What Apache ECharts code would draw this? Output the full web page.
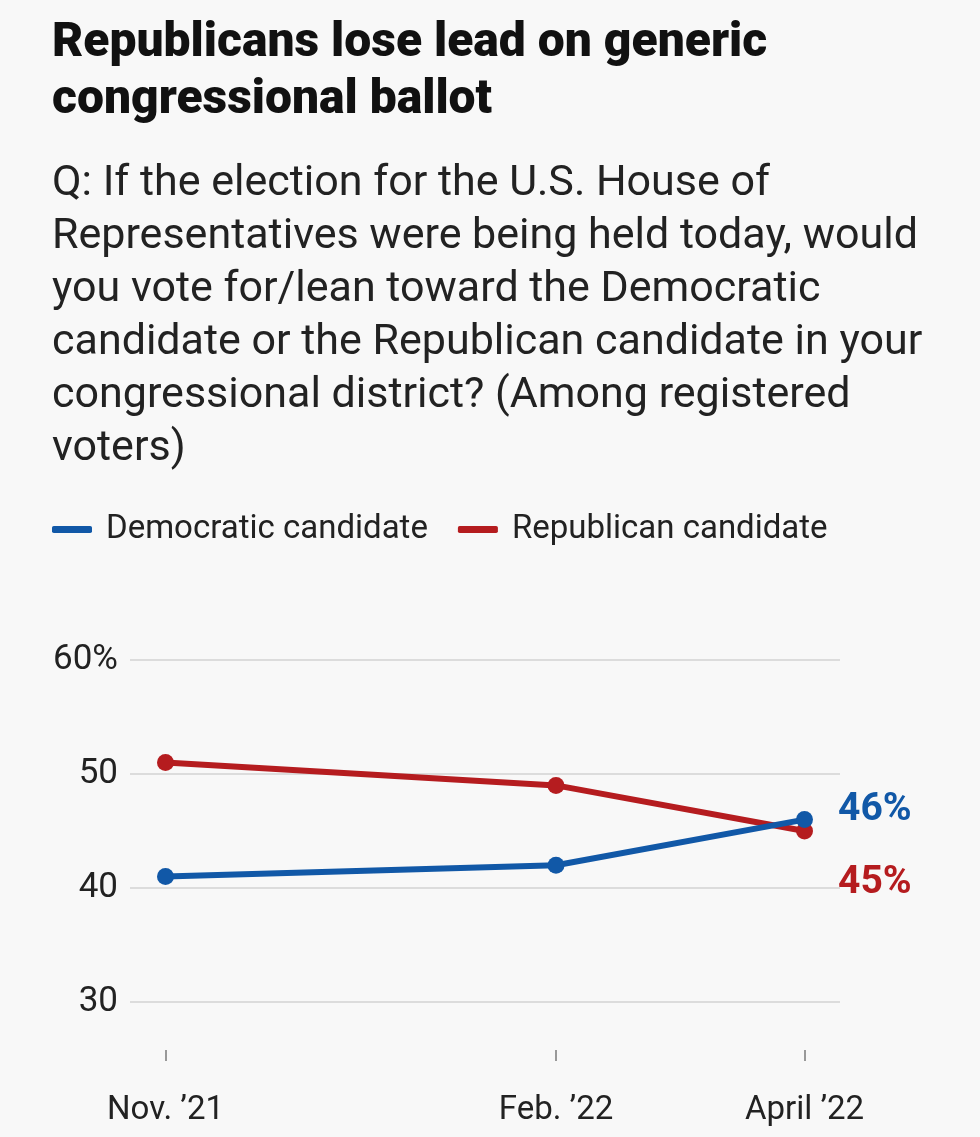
<!DOCTYPE html>
<html>
<head>
<meta charset="utf-8">
<script src="https://cdn.jsdelivr.net/npm/echarts@6/dist/echarts.min.js"></script>
<style>
  html, body { margin: 0; padding: 0; background: #f8f8f8; }
  #chart { width: 980px; height: 1137px; }
</style>
</head>
<body>
<div id="chart"></div>
<script>
// ---- Data ----
const pollDates = ['2021-11-15', '2022-02-22', '2022-04-26'];
const tickLabels = ["Nov. \u201921", "Feb. \u201922", "April \u201922"];
const democratic = [41, 42, 46];
const republican = [51, 49, 45];
const seriesNames = ['Democratic candidate', 'Republican candidate'];

const titleText = 'Republicans lose lead on generic\ncongressional ballot';
const subtitleText = 'Q: If the election for the U.S. House of\nRepresentatives were being held today, would\nyou vote for/lean toward the Democratic\ncandidate or the Republican candidate in your\ncongressional district? (Among registered\nvoters)';

// ---- Build ----
const DAY = 86400000;
const ts = pollDates.map(d => new Date(d + 'T00:00:00Z').getTime());
const labelMap = {};
ts.forEach((t, i) => { labelMap[t] = tickLabels[i]; });

const BLUE = '#1158a7';
const RED = '#b51c1f';
const FONT = 'Roboto, "Liberation Sans", Arial, sans-serif';

function mkSeries(name, vals, color, labelOffset) {
  return {
    name: name,
    type: 'line',
    data: vals.map((v, i) => ({
      value: [ts[i], v],
      label: i === vals.length - 1 ? {
        show: true,
        position: 'right',
        distance: 25,
        offset: [0, labelOffset],
        formatter: v + '%',
        color: color,
        fontSize: 39,
        fontWeight: 'bold',
        fontFamily: FONT
      } : { show: false }
    })),
    symbol: 'circle',
    symbolSize: 17,
    showSymbol: true,
    itemStyle: { color: color },
    lineStyle: { color: color, width: 6 },
    emphasis: { disabled: true },
    animation: false
  };
}

const chart = echarts.init(document.getElementById('chart'), null, { renderer: 'canvas' });
chart.setOption({
  backgroundColor: '#f8f8f8',
  animation: false,
  title: [
    {
      text: titleText,
      left: 47,
      top: 10,
      textStyle: { fontFamily: FONT, fontWeight: 900, fontSize: 48, lineHeight: 57, color: '#111' }
    },
    {
      text: subtitleText,
      left: 47,
      top: 153,
      textStyle: { fontFamily: FONT, fontWeight: 'normal', fontSize: 43, lineHeight: 53, color: '#222' }
    }
  ],
  legend: {
    data: seriesNames,
    left: 47,
    top: 508,
    icon: 'roundRect',
    itemWidth: 40,
    itemHeight: 7,
    itemGap: 30,
    textStyle: { fontFamily: FONT, fontSize: 33, color: '#222', padding: [0, 0, 0, 9] },
    selectedMode: false
  },
  grid: { left: 130, right: 140, top: 660, bottom: 135, containLabel: false },
  xAxis: {
    type: 'value',
    min: ts[0] - 9 * DAY,
    max: ts[ts.length - 1] + 9 * DAY,
    offset: 48,
    axisLine: { show: false },
    splitLine: { show: false },
    axisTick: { show: true, length: 11, lineStyle: { color: '#999', width: 2 }, customValues: ts },
    axisLabel: {
      customValues: ts,
      formatter: v => labelMap[v] || '',
      fontFamily: FONT,
      fontSize: 33,
      color: '#222',
      margin: 44
    }
  },
  yAxis: {
    type: 'value',
    min: 30,
    max: 60,
    interval: 10,
    axisLine: { show: false },
    axisTick: { show: false },
    splitLine: { lineStyle: { color: '#dcdcdc', width: 2 } },
    axisLabel: {
      formatter: v => (v === 60 ? '60%' : String(v)),
      fontFamily: FONT,
      fontSize: 35,
      color: '#222',
      margin: 12
    }
  },
  series: [
    mkSeries(seriesNames[1], republican, RED, 52),
    mkSeries(seriesNames[0], democratic, BLUE, -9)
  ]
});
</script>
</body>
</html>
